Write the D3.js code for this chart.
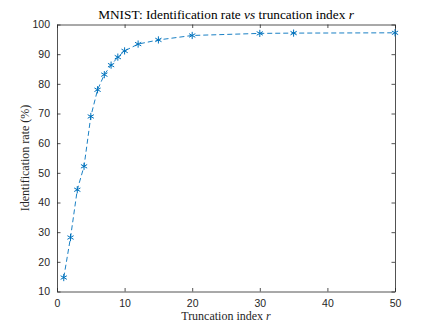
<!DOCTYPE html>
<html lang="en">
<head>
    <meta charset="UTF-8">
    <script src="https://cdnjs.cloudflare.com/ajax/libs/d3/7.8.5/d3.min.js"></script>
    <style>
        body { margin: 0; background: #fff; }
        svg { display: block; }
    </style>
</head>
<body>
<div id="viz"></div>
<script>
    const truncationIndex = [1, 2, 3, 4, 5, 6, 7, 8, 9, 10, 12, 15, 20, 30, 35, 50];
    const identRate = [14.7, 28.2, 44.3, 52.2, 69.0, 78.0, 83.1, 86.3, 89.0, 91.1, 93.4, 94.8, 96.3, 97.0, 97.1, 97.2];
    const xTicks = [0, 10, 20, 30, 40, 50];
    const yTicks = [10, 20, 30, 40, 50, 60, 70, 80, 90, 100];

    const width = 436, height = 327;
    const margin = {top: 24.5, right: 41, bottom: 35.5, left: 57};
    const axisColor = '#262626';
    const lineColor = '#0072BD';

    const svg = d3.select('#viz').append('svg')
        .attr('width', width)
        .attr('height', height);

    const x = d3.scaleLinear().domain([0, 50]).range([margin.left, width - margin.right]);
    const y = d3.scaleLinear().domain([10, 100]).range([height - margin.bottom, margin.top]);

    // axes with inward ticks, box on
    const tickFont = '"Liberation Sans", Arial, sans-serif';
    const styleAxis = g => {
        g.selectAll('path').attr('stroke', axisColor).attr('stroke-width', 0.8);
        g.selectAll('line').attr('stroke', axisColor).attr('stroke-width', 0.8);
        g.selectAll('text').attr('fill', axisColor).style('font-family', tickFont).style('font-size', '10.5px');
    };

    svg.append('g')
        .attr('transform', `translate(0,${y(10)})`)
        .call(d3.axisBottom(x).tickValues(xTicks).tickSize(-3.5).tickPadding(8).tickSizeOuter(0))
        .call(styleAxis);
    svg.append('g')
        .attr('transform', `translate(0,${y(100)})`)
        .call(d3.axisTop(x).tickValues(xTicks).tickSize(-3.5).tickFormat('').tickSizeOuter(0))
        .call(styleAxis);
    svg.append('g')
        .attr('transform', `translate(${x(0)},0)`)
        .call(d3.axisLeft(y).tickValues(yTicks).tickSize(-3.5).tickPadding(7).tickSizeOuter(0))
        .call(styleAxis);
    svg.append('g')
        .attr('transform', `translate(${x(50)},0)`)
        .call(d3.axisRight(y).tickValues(yTicks).tickSize(-3.5).tickFormat('').tickSizeOuter(0))
        .call(styleAxis);

    // dashed line
    const line = d3.line().x((d, i) => x(truncationIndex[i])).y(d => y(d));
    svg.append('path')
        .datum(identRate)
        .attr('fill', 'none')
        .attr('stroke', lineColor)
        .attr('stroke-width', 0.9)
        .attr('stroke-dasharray', '5,3')
        .attr('d', line);

    // asterisk markers
    const star = d3.symbol().type(d3.symbolAsterisk).size(36);
    svg.append('g').selectAll('path')
        .data(identRate).enter()
        .append('path')
        .attr('transform', (d, i) => `translate(${x(truncationIndex[i])},${y(d)})`)
        .attr('d', star)
        .attr('fill', 'none')
        .attr('stroke', lineColor)
        .attr('stroke-width', 1);

    const serif = '"Liberation Serif", "DejaVu Serif", serif';

    const title = svg.append('text')
        .attr('x', (x(0) + x(50)) / 2)
        .attr('y', 19)
        .attr('text-anchor', 'middle')
        .style('font-family', serif)
        .style('font-size', '13.3px')
        .attr('fill', '#000');
    title.append('tspan').text('MNIST: Identification rate ');
    title.append('tspan').style('font-style', 'italic').text('vs');
    title.append('tspan').text(' truncation index ');
    title.append('tspan').style('font-style', 'italic').text('r');

    const xLabel = svg.append('text')
        .attr('x', (x(0) + x(50)) / 2)
        .attr('y', 320)
        .attr('text-anchor', 'middle')
        .style('font-family', serif)
        .style('font-size', '12px')
        .attr('fill', axisColor);
    xLabel.append('tspan').text('Truncation index ');
    xLabel.append('tspan').style('font-style', 'italic').text('r');

    svg.append('text')
        .attr('transform', `translate(29,${(y(10) + y(100)) / 2}) rotate(-90)`)
        .attr('text-anchor', 'middle')
        .style('font-family', serif)
        .style('font-size', '12px')
        .attr('fill', axisColor)
        .text('Identification rate (%)');
</script>
</body>
</html>
